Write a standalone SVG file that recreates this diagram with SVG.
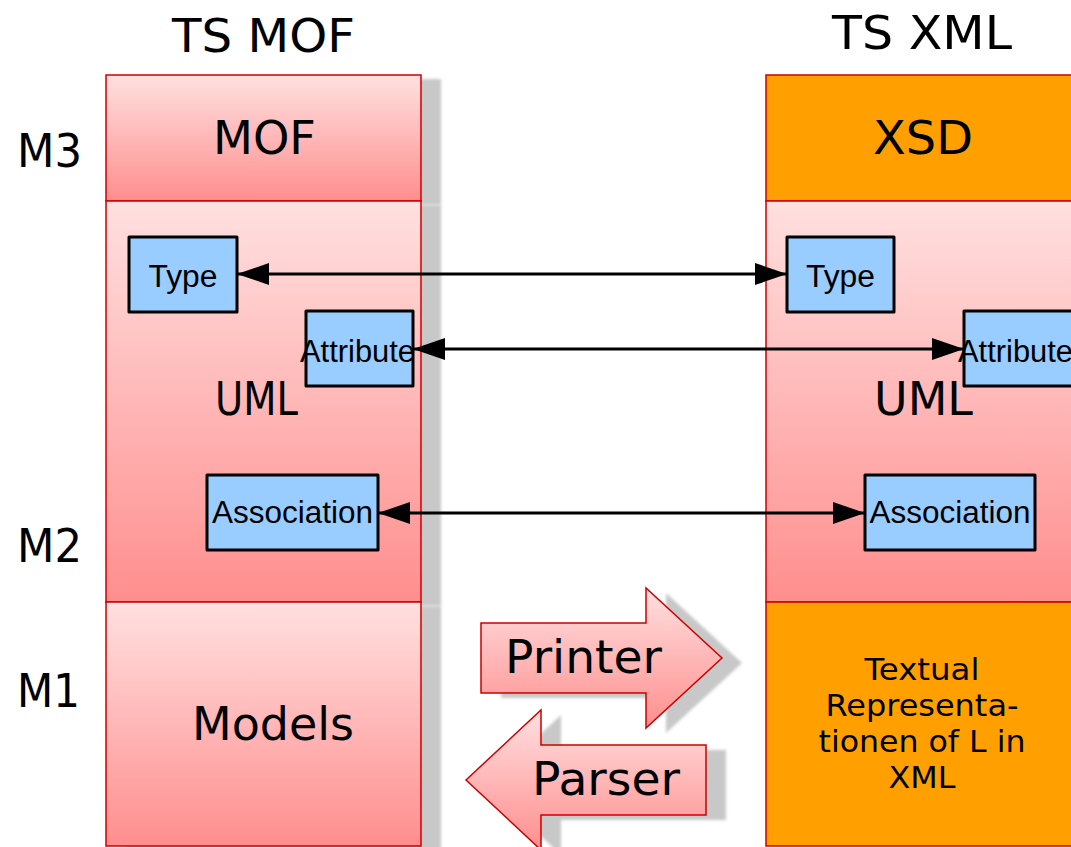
<svg xmlns="http://www.w3.org/2000/svg" width="1071" height="847" viewBox="0 0 1071 847">
<defs>
<linearGradient id="pink" x1="0" y1="0" x2="0" y2="1">
<stop offset="0" stop-color="#FFE0E0"/>
<stop offset="1" stop-color="#FF8E8E"/>
</linearGradient>
<filter id="blur" x="-10%" y="-10%" width="120%" height="120%">
<feGaussianBlur stdDeviation="1.5"/>
</filter>
<marker id="ah" viewBox="0 0 32 22" refX="32" refY="11" markerWidth="32" markerHeight="22" markerUnits="userSpaceOnUse" orient="auto-start-reverse">
<path d="M0,0 L32,11 L0,22 Z" fill="#000"/>
</marker>
</defs>
<style>
.layer{fill:url(#pink);stroke:#CC0000;stroke-width:1.5}
.orange{fill:#FFA000;stroke:#CC0000;stroke-width:1.5}
.shadow{fill:#C8C8C8;filter:url(#blur)}
.blue{fill:#99CCFF;stroke:#000;stroke-width:3;stroke-linejoin:round}
.big{font-family:"DejaVu Sans","Verdana",sans-serif;font-size:47px;fill:#000}
.mid{font-family:"DejaVu Sans","Verdana",sans-serif;font-size:30px;fill:#000;text-anchor:middle}
.box{font-family:"Liberation Sans",Arial,sans-serif;font-size:31px;fill:#000;text-anchor:middle}
.c{text-anchor:middle}
.conn{stroke:#000;stroke-width:3;fill:none;marker-start:url(#ah);marker-end:url(#ah)}
</style>

<g id="titles">
<text class="big c" x="263.5" y="52" textLength="183" lengthAdjust="spacingAndGlyphs">TS MOF</text>
<text class="big c" x="922" y="49" textLength="180" lengthAdjust="spacingAndGlyphs">TS XML</text>
</g>

<g id="levels">
<text class="big" x="17" y="167" textLength="65" lengthAdjust="spacingAndGlyphs">M3</text>
<text class="big" x="17" y="562" textLength="65" lengthAdjust="spacingAndGlyphs">M2</text>
<text class="big" x="17" y="707" textLength="63" lengthAdjust="spacingAndGlyphs">M1</text>
</g>

<g id="shadows">
<rect class="shadow" x="126" y="79" width="315" height="126"/>
<rect class="shadow" x="126" y="205" width="315" height="401"/>
<rect class="shadow" x="126" y="606" width="315" height="250"/>
<path class="shadow" d="M501,628 L666,628 L666,593 L742,663 L666,733 L666,698 L501,698 Z"/>
<path class="shadow" d="M486,785 L561,715 L561,750 L726,750 L726,820 L561,820 L561,855 Z"/>
</g>

<g id="mof">
<rect class="layer" x="106" y="75" width="315" height="126"/>
<text class="big c" x="264.5" y="154" textLength="103" lengthAdjust="spacingAndGlyphs">MOF</text>
</g>
<g id="uml-left">
<rect class="layer" x="106" y="201" width="315" height="401"/>
<text class="big c" x="256.5" y="415" textLength="83" lengthAdjust="spacingAndGlyphs">UML</text>
</g>
<g id="models">
<rect class="layer" x="106" y="602" width="315" height="244"/>
<text class="big c" x="273" y="740" textLength="162" lengthAdjust="spacingAndGlyphs">Models</text>
</g>

<g id="xsd">
<rect class="orange" x="766" y="75" width="315" height="126"/>
<text class="big c" x="923" y="154" textLength="100" lengthAdjust="spacingAndGlyphs">XSD</text>
</g>
<g id="uml-right">
<rect class="layer" x="766" y="201" width="315" height="401"/>
<text class="big c" x="923.5" y="415" textLength="99" lengthAdjust="spacingAndGlyphs">UML</text>
</g>
<g id="textual">
<rect class="orange" x="766" y="602" width="315" height="244"/>
<text class="mid" x="922" y="680" textLength="115" lengthAdjust="spacingAndGlyphs">Textual</text>
<text class="mid" x="922" y="716" textLength="193" lengthAdjust="spacingAndGlyphs">Representa-</text>
<text class="mid" x="922" y="752" textLength="207" lengthAdjust="spacingAndGlyphs">tionen of L in</text>
<text class="mid" x="922" y="788" textLength="67" lengthAdjust="spacingAndGlyphs">XML</text>
</g>

<g id="type-left">
<rect class="blue" x="129" y="237" width="108" height="75"/>
<text class="box" x="183" y="287" textLength="69" lengthAdjust="spacingAndGlyphs">Type</text>
</g>
<g id="attribute-left">
<rect class="blue" x="306" y="311" width="107" height="75"/>
<text class="box" x="357.5" y="362" textLength="115" lengthAdjust="spacingAndGlyphs">Attribute</text>
</g>
<g id="association-left">
<rect class="blue" x="207" y="475" width="171" height="75"/>
<text class="box" x="292.5" y="523" textLength="161" lengthAdjust="spacingAndGlyphs">Association</text>
</g>
<g id="type-right">
<rect class="blue" x="787" y="237" width="107" height="75"/>
<text class="box" x="840.5" y="287" textLength="69" lengthAdjust="spacingAndGlyphs">Type</text>
</g>
<g id="attribute-right">
<rect class="blue" x="964" y="311" width="112" height="75"/>
<text class="box" x="1015.5" y="362" textLength="115" lengthAdjust="spacingAndGlyphs">Attribute</text>
</g>
<g id="association-right">
<rect class="blue" x="865" y="475" width="170" height="75"/>
<text class="box" x="950" y="523" textLength="161" lengthAdjust="spacingAndGlyphs">Association</text>
</g>

<g id="connectors">
<line class="conn" x1="237" y1="274" x2="787" y2="274"/>
<line class="conn" x1="413" y1="349" x2="964" y2="349"/>
<line class="conn" x1="378" y1="513" x2="865" y2="513"/>
</g>

<g id="printer">
<path class="layer" d="M481,623 L646,623 L646,588 L722,658 L646,728 L646,693 L481,693 Z"/>
<text class="big" x="505" y="673" textLength="157" lengthAdjust="spacingAndGlyphs">Printer</text>
</g>
<g id="parser">
<path class="layer" d="M466,780 L541,710 L541,745 L706,745 L706,815 L541,815 L541,850 Z"/>
<text class="big" x="532" y="795" textLength="148" lengthAdjust="spacingAndGlyphs">Parser</text>
</g>
</svg>
